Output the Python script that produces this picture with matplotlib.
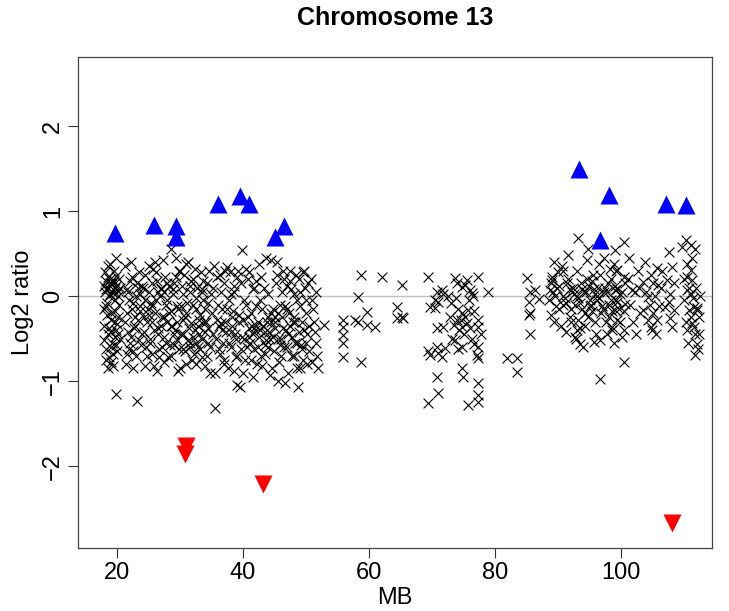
import matplotlib
matplotlib.use("Agg")
import matplotlib.pyplot as plt
import numpy as np

# ---- probe data (MB position, log2 ratio) ----
seg1_mb = [17.9,18.0,18.1,18.2,18.3,18.4,18.5,18.6,18.7,18.8,
           18.9,19.0,19.1,19.2,19.3,19.4,19.5,19.6,19.7,19.8,
           19.9,20.0,20.1,20.2,20.3,20.4,17.9,18.1,18.3,18.5,
           18.7,18.9,19.1,19.3,19.8,19.7,19.9,20.1,20.3,18.0,
           18.2,18.4,18.6,18.8,19.0,19.2,19.4,19.6,19.8,20.0,
           20.2,18.3,18.7,19.1,19.5,19.9,20.4,18.5,19.0,19.6]
seg1_log2 = [0.12,-0.35,0.05,-0.62,0.18,-0.08,-0.45,0.22,-0.72,0.02,
             0.38,-0.28,0.15,-0.55,0.08,-0.82,0.3,-0.18,0.1,-0.4,
             0.45,-0.65,0.0,-0.25,0.2,-0.5,-0.15,0.28,-0.75,0.1,
             -0.38,0.16,-0.6,0.04,-1.15,-0.3,0.12,-0.45,-0.1,-0.52,
             0.08,-0.22,-0.85,0.2,-0.42,0.14,-0.68,-0.05,0.24,-0.33,
             0.06,-0.12,0.0,-0.78,0.18,-0.58,0.1,0.35,-0.2,-0.48]

seg2_mb = [21.2,21.5,21.8,22.1,22.4,22.7,23.0,23.3,23.6,23.9,
           21.3,21.6,21.9,22.2,22.5,22.8,23.1,23.4,23.7,21.4,
           21.7,22.0,22.3,22.6,22.9,23.2,23.5,23.8,21.9,22.6,
           23.3,23.0,22.2,21.6,23.7]
seg2_log2 = [0.35,-0.2,0.05,-0.55,0.22,-0.38,-0.7,0.1,-0.12,-0.45,
             -0.3,0.08,-0.62,0.4,-0.08,-0.25,0.15,-0.52,0.02,-0.8,
             -0.42,0.18,-0.15,-0.65,-0.35,-1.24,0.28,-0.58,-0.05,-0.84,
             -0.28,0.0,-0.48,-0.68,-0.18]

seg3_mb = [24.1,24.3,24.5,24.7,24.9,25.1,25.3,25.5,25.7,25.9,
           26.1,26.3,26.5,26.7,26.9,27.1,27.3,27.5,27.7,27.9,
           28.1,28.3,28.5,28.7,28.9,29.1,29.3,29.5,29.7,29.9,
           30.1,30.3,30.5,30.7,30.9,31.1,31.3,31.5,31.7,31.9,
           32.1,32.3,32.5,32.7,32.9,33.1,33.3,33.5,33.7,33.9,
           34.1,34.3,34.5,34.7,34.9,24.2,24.6,25.0,25.4,25.8,
           26.2,26.6,27.0,27.4,27.8,28.2,28.6,29.0,29.4,29.8,
           30.2,30.6,31.0,31.4,31.8,32.2,32.6,33.0,33.4,33.8,
           34.2,34.6,24.4,24.8,25.2,25.6,26.0,26.4,26.8,27.2,
           27.6,28.0,28.4,28.8,29.2,29.6,30.0,30.4,30.8,31.2,
           31.6,32.0,32.4,32.8,33.2,33.6,34.0,34.4,34.8,23.9,
           25.0,25.5,26.0,26.5,27.0,27.5,28.0,28.5,29.0,29.5,
           30.0,30.5,31.0,31.5,32.0,32.5,33.0,33.5,34.0,34.5,
           24.5,25.5,26.5,27.5,28.5,29.5,30.5,31.5,32.5,33.5]
seg3_log2 = [0.1,-0.42,0.25,-0.7,-0.15,0.05,-0.55,-0.3,0.32,-0.82,
             -0.05,0.18,-0.38,-0.62,0.08,-0.25,0.42,-0.48,-0.1,0.15,
             -0.72,-0.2,0.55,-0.35,0.02,-0.58,0.22,-0.12,-0.88,0.3,
             -0.45,0.12,-0.28,-0.65,0.38,-0.08,-0.52,0.05,-0.32,-0.75,
             0.2,-0.4,-0.15,0.1,-0.6,-0.22,0.28,-0.5,-0.05,-0.82,
             -0.3,0.15,-0.55,-0.9,0.02,-0.25,-0.6,0.35,-0.08,-0.4,
             0.28,-0.72,-0.35,0.05,-0.55,0.12,-0.18,-0.45,0.45,-0.62,
             -0.12,0.25,-0.8,-0.38,0.18,-0.68,-0.02,-0.45,0.08,-0.3,
             -0.7,0.3,-0.05,-0.3,-0.5,0.15,-0.2,-0.88,0.0,-0.6,
             0.22,-0.3,-0.58,0.08,-0.4,-0.15,-0.85,0.02,-0.25,0.4,
             -0.55,-0.1,0.32,-0.35,-0.62,0.18,-0.42,-0.08,-0.6,0.12,
             -0.22,-0.68,0.4,-0.45,0.1,-0.78,-0.05,-0.35,0.15,-0.52,
             0.3,-0.62,-0.2,0.12,-0.48,-0.8,-0.28,0.05,-0.15,-0.38,
             -0.82,-0.12,0.05,-0.25,-0.7,-0.3,-0.45,-0.6,-0.55,-0.72]

seg4_mb = [35.1,35.3,35.5,35.7,35.9,36.1,36.3,36.5,36.7,36.9,
           37.1,37.3,37.5,37.7,37.9,38.1,38.3,38.5,38.7,38.9,
           39.1,39.3,39.5,39.7,39.9,40.1,40.3,40.5,40.7,40.9,
           41.1,41.3,41.5,41.7,41.9,42.1,42.3,42.5,42.7,42.9,
           43.1,43.3,43.5,43.7,43.9,44.1,44.3,44.5,44.7,44.9,
           45.1,45.3,45.5,45.7,45.9,46.1,46.3,46.5,46.7,46.9,
           47.1,47.3,47.5,47.7,47.9,48.1,48.3,48.5,48.7,48.9,
           49.1,49.3,49.5,49.7,49.9,50.1,50.3,50.5,35.2,35.6,
           36.0,36.4,36.8,37.2,37.6,38.0,38.4,38.8,39.2,39.6,
           40.0,40.4,40.8,41.2,41.6,42.0,42.4,42.8,43.2,43.6,
           44.0,44.4,44.8,45.2,45.6,46.0,46.4,46.8,47.2,47.6,
           48.0,48.4,48.8,49.2,49.6,50.0,50.4,35.4,35.8,36.2,
           36.6,37.0,37.4,37.8,38.2,38.6,39.0,39.4,39.8,40.2,
           40.6,41.0,41.4,41.8,42.2,42.6,43.0,43.4,43.8,44.2,
           44.6,45.0,45.4,45.8,46.2,46.6,47.0,47.4,47.8,48.2,
           48.6,49.0,49.4,49.8,50.2,37.0,38.0,39.0,40.0,41.0,
           42.0,43.0,44.0,45.0,46.0,47.0,48.0,49.0,50.0,41.5,
           42.5,43.5,44.5,45.5,46.5,47.5,48.5,49.5,38.5,36.5,
           51.0,51.3,51.6,51.9,50.8,51.1,51.4,51.7,50.9,51.5]
seg4_log2 = [-0.2,0.1,-1.32,-0.5,0.22,-0.35,-0.68,0.05,-0.15,-0.8,
             0.3,-0.42,0.34,-0.05,0.28,-0.6,-0.25,0.12,-0.45,-0.72,
             -1.05,-0.3,-1.07,0.15,0.54,-0.5,-0.75,-0.1,0.2,-0.38,
             -0.55,-0.2,0.08,-0.62,-0.4,0.18,-0.3,-0.48,-0.05,-0.7,
             -0.35,0.1,-0.58,0.45,-0.25,-0.42,-0.93,0.42,-0.15,-0.65,
             -0.3,0.25,-0.5,-0.78,-0.1,0.05,-0.38,-0.6,-1.02,0.12,
             -0.45,-0.2,0.3,-0.7,-0.3,0.02,-0.55,-0.85,-1.07,0.2,
             -0.12,-0.62,0.28,-0.4,-0.05,-0.8,0.15,-0.35,-0.45,-0.9,
             -0.1,0.25,-0.55,-0.3,-0.85,0.02,-0.18,-0.5,0.3,-0.62,
             -0.9,0.32,-0.25,-0.75,-0.45,-0.12,-0.6,0.22,-0.35,-0.52,
             0.02,-0.3,-0.48,0.15,-0.2,-0.7,0.3,-0.4,-0.9,0.08,
             -0.25,0.25,-0.42,-0.58,0.3,-0.2,-0.65,0.35,-0.28,-0.62,
             -0.4,0.15,-0.15,-0.55,-0.35,0.05,-0.7,-0.22,-0.48,-0.05,
             -0.6,0.28,-0.35,0.1,-0.8,-0.4,-0.15,-0.68,-0.3,-0.5,
             -0.85,-0.38,0.4,-0.58,-0.25,-0.12,-0.6,0.18,-0.48,-0.3,
             -0.05,-0.85,-0.3,0.1,-0.45,-0.75,-0.42,0.22,-0.28,-0.48,
             -0.35,-0.82,-0.6,-0.25,-0.5,-0.15,-0.7,0.05,-0.55,-0.95,
             0.38,-0.42,-0.2,-1.0,0.2,-0.35,-0.55,-0.75,-0.88,-0.32,
             -0.05,-0.3,-0.55,-0.85,0.2,-0.15,-0.42,-0.7,-0.78,0.05]

seg5_mb = [52.9,55.9,55.9,55.9,55.9,55.9,57.8,58.3,58.7,58.3,
           59.7,59.7,61.0,58.7,62.1,65.2,64.4,64.4,65.2,65.4]
seg5_log2 = [-0.34,-0.28,-0.36,-0.46,-0.55,-0.72,-0.28,-0.3,0.25,-0.01,
             -0.19,-0.34,-0.36,-0.78,0.22,0.13,-0.13,-0.26,-0.25,-0.26]

seg6_mb = [69.4,70.8,71.6,71.7,70.5,71.0,69.7,70.5,70.8,71.7,
           69.4,69.7,70.8,71.0,71.6,72.1,70.8,71.0,69.4,
           73.6,73.9,74.7,75.2,75.5,76.0,76.3,77.3,
           74.1,74.7,75.2,73.9,73.4,74.7,75.5,75.7,76.7,77.3,77.3,
           73.2,73.6,74.1,74.7,76.3,76.7,77.3,77.8,77.3,77.1,
           74.8,74.9,77.3,77.3,77.3,75.7,78.9,81.9,83.5,83.5,
           72.5,73.0,73.8,74.3,75.0,75.8,76.5,72.8,76.0,74.5,
           85.0,85.6,86.3,85.3,86.9,85.5,85.3,85.5]
seg6_log2 = [0.22,0.05,0.07,0.03,-0.05,-0.07,-0.13,-0.14,-0.38,-0.36,
             -0.64,-0.69,-0.6,-0.67,-0.72,-0.61,-0.95,-1.14,-1.26,
             0.21,0.15,0.11,0.13,0.19,0.07,0.04,0.23,
             -0.15,-0.2,-0.24,-0.28,-0.34,-0.36,-0.32,-0.16,-0.18,-0.28,-0.36,
             -0.5,-0.52,-0.62,-0.6,-0.5,-0.56,-0.6,-0.44,-0.73,-0.69,
             -0.85,-0.95,-1.02,-1.16,-1.25,-1.28,0.05,-0.73,-0.73,-0.89,
             0.0,-0.08,-0.02,-0.4,-0.45,-0.05,0.0,-0.25,-0.38,-0.28,
             0.21,0.05,0.07,-0.07,-0.03,-0.2,-0.22,-0.44]

seg7_mb = [88.6,89.0,89.4,89.8,90.2,90.6,91.0,91.4,91.8,92.2,
           92.6,93.0,93.4,93.8,94.2,94.6,95.0,95.4,95.8,96.2,
           96.6,97.0,97.4,97.8,98.2,98.6,99.0,99.4,99.8,88.8,
           89.2,89.6,90.0,90.4,90.8,91.2,91.6,92.0,92.4,92.8,
           93.2,93.6,94.0,94.4,94.8,95.2,95.6,96.0,96.4,96.8,
           97.2,97.6,98.0,98.4,98.8,99.2,99.6,90.1,91.3,92.5,
           93.7,94.9,96.1,97.3,98.5,89.5,90.7,91.9,93.1,94.3,
           95.5,96.7,97.9,99.1,88.9,92.1,95.3,98.1,94.5,96.3,
           92.9,93.5,94.1,95.1,95.9,96.5,97.1,97.7,98.3,99.3,
           89.3,89.0,88.7,90.8,91.6,93.2,94.8,96.7,93.0,93.5,95.6,92.7]
seg7_log2 = [-0.05,0.22,-0.3,0.1,-0.15,0.35,-0.02,0.15,-0.25,0.05,
             -0.1,0.3,-0.38,0.08,-0.2,0.42,-0.05,0.18,-0.3,0.0,
             0.25,-0.12,0.1,-0.45,0.32,-0.18,0.12,-0.28,0.02,-0.22,
             0.05,-0.12,0.28,-0.35,0.0,-0.08,0.2,-0.15,0.1,-0.5,
             -0.02,0.15,-0.6,0.05,-0.25,-0.1,0.08,-0.45,0.38,-0.2,
             0.05,-0.3,-0.1,0.2,-0.55,0.3,-0.15,0.12,-0.42,0.02,
             -0.15,0.12,-0.05,0.45,-0.4,0.0,-0.1,0.08,-0.28,-0.35,
             0.25,-0.52,0.15,-0.05,0.15,-0.3,-0.18,-0.25,0.2,0.1,
             0.0,-0.08,0.05,-0.12,0.02,-0.02,-0.15,0.05,-0.05,0.08,
             0.4,0.19,0.07,0.29,0.48,0.68,0.56,-0.97,-0.4,-0.56,-0.54,-0.48]

seg8_mb = [100.4,99.0,98.8,99.3,100.4,100.6,99.0,100.1,101.7,99.3,
           100.6,99.0,100.4,99.8,100.4,100.1,98.5,100.4,
           103.8,105.7,103.5,105.1,105.9,104.3,103.5,105.1,104.3,105.7,104.9,104.8,
           107.5,108.0,107.2,108.3,107.8,107.5,108.3,107.8,108.0,107.0,
           110.2,111.0,109.7,111.7,110.4,111.0,110.4,111.2,110.4,111.0,
           111.5,110.7,112.0,111.0,111.2,111.5,110.4,111.7,112.0,111.7,112.0,
           101.0,101.4,101.8,102.2,102.6,103.0,102.4,101.2,102.8,
           104.0,104.6,105.3,106.0,106.3,104.7,105.5,106.5,
           110.0,110.8,111.4,112.3,112.5,110.2,111.8,112.4,109.9,110.6,111.3,112.2]
seg8_log2 = [0.64,0.54,0.38,0.31,0.23,0.15,0.07,0.05,0.07,-0.07,
             -0.09,-0.16,-0.18,-0.3,-0.4,-0.48,-0.36,-0.77,
             0.4,0.33,0.17,0.15,0.13,-0.01,-0.16,-0.2,-0.28,-0.28,-0.4,-0.36,
             0.52,0.34,0.19,0.15,0.03,-0.07,-0.16,-0.26,-0.36,-0.13,
             0.66,0.6,0.58,0.56,0.38,0.31,0.23,0.19,0.07,0.02,
             -0.13,-0.16,-0.14,-0.24,-0.32,-0.36,-0.4,-0.44,-0.56,-0.69,-0.16,
             0.2,-0.1,-0.3,0.05,0.3,-0.2,-0.45,0.45,0.1,
             0.05,-0.1,0.0,-0.12,0.1,0.25,-0.45,0.3,
             -0.05,0.1,-0.02,-0.25,0.0,-0.3,0.1,-0.45,0.2,-0.55,0.45,-0.62]

# ---- called gains (blue up-triangles) and losses (red down-triangles) ----
gain_mb = [19.7, 25.9, 29.4, 29.4, 36.0, 39.5, 41.0, 45.1, 46.5, 93.3, 98.1, 96.7, 107.1, 110.2]
gain_log2 = [0.74, 0.84, 0.82, 0.70, 1.09, 1.18, 1.09, 0.70, 0.82, 1.50, 1.19, 0.66, 1.08, 1.07]
loss_mb = [31.0, 30.8, 43.2, 108.1]
loss_log2 = [-1.76, -1.86, -2.21, -2.67]

probe_mb = seg1_mb + seg2_mb + seg3_mb + seg4_mb + seg5_mb + seg6_mb + seg7_mb + seg8_mb
probe_log2 = seg1_log2 + seg2_log2 + seg3_log2 + seg4_log2 + seg5_log2 + seg6_log2 + seg7_log2 + seg8_log2

plt.rcParams['font.family'] = ['Liberation Sans', 'DejaVu Sans']

fig = plt.figure(figsize=(7.29, 6.11), dpi=100)
ax = fig.add_axes([78/729, 1 - 548/611, (712 - 78)/729, (548 - 57)/611])

ax.axhline(0, color='#c0c0c0', lw=1, zorder=1)
ax.scatter(probe_mb, probe_log2, marker='x', s=50, c='black', linewidths=0.8, zorder=2)
ax.plot(gain_mb, gain_log2, linestyle='none', marker='^', ms=13, color='#0000ff', mec='none', zorder=3)
ax.plot(loss_mb, loss_log2, linestyle='none', marker='v', ms=13, color='#ff0000', mec='none', zorder=3)

ax.set_xlim(13.8, 114.4)
ax.set_ylim(-2.964, 2.814)
ax.set_xticks([20, 40, 60, 80, 100])
ax.set_yticks([-2, -1, 0, 1, 2])
ax.tick_params(axis='both', direction='out', length=7, width=0.8, labelsize=17,
               color='#333333', pad=3)
for lab in ax.get_yticklabels():
    lab.set_rotation(90)
    lab.set_va('center')
for sp in ax.spines.values():
    sp.set_color('#444444')
    sp.set_linewidth(0.9)

ax.set_xlabel('MB', fontsize=17, labelpad=2)
ax.set_ylabel('Log2 ratio', fontsize=17, labelpad=6)
fig.text(0.5 * (78 + 712) / 729, 1 - 18 / 611, 'Chromosome 13', fontsize=18,
         fontweight='bold', ha='center', va='center')

fig.savefig('out.png', dpi=100)
